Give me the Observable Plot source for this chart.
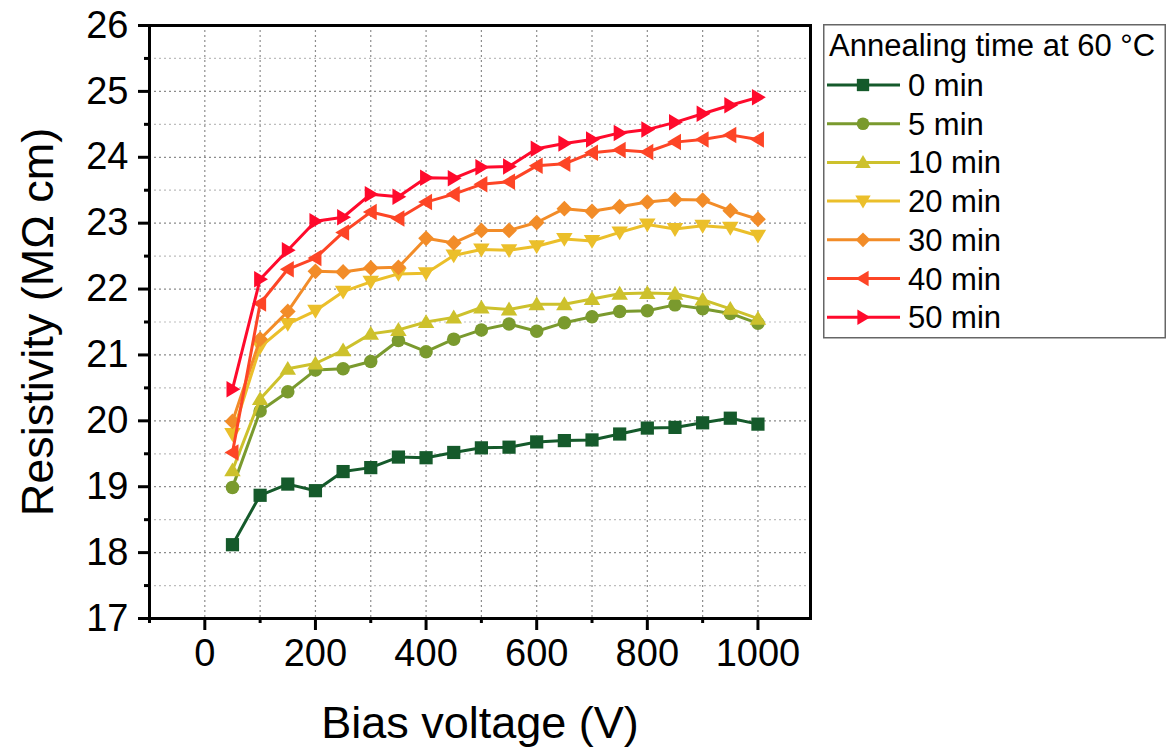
<!DOCTYPE html>
<html>
<head>
<meta charset="utf-8">
<script src="https://cdn.jsdelivr.net/npm/d3@7"></script>
<script src="https://cdn.jsdelivr.net/npm/@observablehq/plot@0.6"></script>
<style>
  body { margin: 0; background: #fff; }
  #wrap { display: flex; flex-direction: row; width: 1166px; height: 749px; overflow: hidden; background: #fff; }
  #wrap svg { font-family: "Liberation Sans", Arial, sans-serif; }
  #chart svg { max-width: none; }
</style>
</head>
<body>
<div id="wrap"><div id="chart"></div><div id="legend"></div></div>
<script>
// ---- data ----
const voltage = [50,100,150,200,250,300,350,400,450,500,550,600,650,700,750,800,850,900,950,1000];
const seriesNames = ["0 min","5 min","10 min","20 min","30 min","40 min","50 min"];
const seriesColors = ["#155a2b","#7a9a2e","#cdc12c","#ebbf2a","#f28c28","#fd4526","#ff0a2c"];
const min0  = [18.12,18.87,19.04,18.94,19.23,19.29,19.45,19.44,19.52,19.59,19.60,19.68,19.70,19.71,19.80,19.89,19.90,19.97,20.04,19.95];
const min5  = [18.99,20.15,20.44,20.77,20.79,20.90,21.22,21.05,21.24,21.38,21.47,21.36,21.49,21.58,21.66,21.67,21.76,21.70,21.63,21.48];
const min10 = [19.25,20.33,20.79,20.87,21.07,21.32,21.38,21.50,21.57,21.72,21.69,21.77,21.77,21.85,21.93,21.94,21.93,21.84,21.70,21.55];
const min20 = [19.80,21.12,21.47,21.67,21.96,22.11,22.23,22.24,22.51,22.60,22.59,22.65,22.76,22.73,22.86,22.98,22.91,22.96,22.93,22.81];
const min30 = [19.99,21.24,21.66,22.27,22.26,22.32,22.33,22.77,22.70,22.89,22.89,23.01,23.22,23.18,23.25,23.32,23.36,23.35,23.19,23.06];
const min40 = [19.52,21.78,22.30,22.47,22.86,23.17,23.07,23.32,23.44,23.59,23.63,23.87,23.90,24.07,24.11,24.08,24.23,24.27,24.34,24.27];
const min50 = [20.48,22.15,22.59,23.03,23.09,23.44,23.40,23.69,23.68,23.85,23.86,24.13,24.21,24.27,24.37,24.42,24.53,24.66,24.79,24.91];
const seriesValues = [min0,min5,min10,min20,min30,min40,min50];
const xMajorTicks = [0,200,400,600,800,1000];
const xMinorTicks = [-100,100,300,500,700,900];
const yMajorTicks = [17,18,19,20,21,22,23,24,25,26];
const yMinorTicks = [17.5,18.5,19.5,20.5,21.5,22.5,23.5,24.5,25.5];
const xGrid = [0,100,200,300,400,500,600,700,800,900,1000];
const yGridMajor = [18,19,20,21,22,23,24,25];
const yGridMinor = [17.5,18.5,19.5,20.5,21.5,22.5,23.5,24.5,25.5];
const xTitle = "Bias voltage (V)";
const yTitle = "Resistivity (MΩ cm)";
const legendTitle = "Annealing time at 60 °C";

// ---- marker shapes (Origin-like) ----
const rad = (size) => Math.sqrt(size / Math.PI);
const symSquare = {draw(c, s){ const r = rad(s)*0.88; c.rect(-r,-r,2*r,2*r); }};
const symCircle = {draw(c, s){ const r = rad(s)*0.9; c.moveTo(r,0); c.arc(0,0,r,0,2*Math.PI); }};
const symUp = {draw(c, s){ const r = rad(s); c.moveTo(0,-r*1.05); c.lineTo(r*1.1,r*0.8); c.lineTo(-r*1.1,r*0.8); c.closePath(); }};
const symDown = {draw(c, s){ const r = rad(s); c.moveTo(0,r*1.05); c.lineTo(r*1.1,-r*0.8); c.lineTo(-r*1.1,-r*0.8); c.closePath(); }};
const symDiamond = {draw(c, s){ const r = rad(s)*1.05; c.moveTo(0,-r); c.lineTo(r,0); c.lineTo(0,r); c.lineTo(-r,0); c.closePath(); }};
const symLeft = {draw(c, s){ const r = rad(s); c.moveTo(-r*1.05,0); c.lineTo(r*0.8,-r*1.1); c.lineTo(r*0.8,r*1.1); c.closePath(); }};
const symRight = {draw(c, s){ const r = rad(s); c.moveTo(r*1.05,0); c.lineTo(-r*0.8,-r*1.1); c.lineTo(-r*0.8,r*1.1); c.closePath(); }};
const seriesSymbols = [symSquare,symCircle,symUp,symDown,symDiamond,symLeft,symRight];

const rows = seriesNames.map((name, i) => voltage.map((v, j) => ({series: name, v, r: seriesValues[i][j]})));

const seriesMarks = rows.flatMap((d, i) => [
  Plot.line(d, {x: "v", y: "r", stroke: "series", strokeWidth: 3}),
  Plot.dot(d, {x: "v", y: "r", fill: "series", symbol: seriesSymbols[i], r: 7.5, stroke: "none"})
]);

const plain = (d) => String(d);
const blank = () => "";
const hasAxisMarks = typeof Plot.axisX === "function";
const axisMarks = hasAxisMarks ? [
  Plot.axisX(xMajorTicks, {tickSize: 12, tickPadding: 9, strokeWidth: 3, fontSize: 38, tickFormat: plain, label: null}),
  Plot.axisX(xMinorTicks, {tickSize: 5, strokeWidth: 3, tickFormat: blank, label: null}),
  Plot.axisY(yMajorTicks, {tickSize: 11, tickPadding: 10, strokeWidth: 3, fontSize: 38, tickFormat: plain, label: null}),
  Plot.axisY(yMinorTicks, {tickSize: 5, strokeWidth: 3, tickFormat: blank, label: null})
] : [];

const chart = Plot.plot({
  width: 823,
  height: 749,
  marginLeft: 149,
  marginRight: 13,
  marginTop: 25,
  marginBottom: 131,
  style: {fontFamily: "Liberation Sans, Arial, sans-serif", color: "#000", background: "#fff"},
  x: {domain: [-100, 1095], ticks: xMajorTicks, tickSize: 12, tickPadding: 9, tickFormat: plain, label: null},
  y: {domain: [17, 26], ticks: yMajorTicks, tickSize: 11, tickPadding: 10, tickFormat: plain, label: null},
  color: {domain: seriesNames, range: seriesColors},
  marks: [
    Plot.ruleX(xGrid, {stroke: "#8c8c8c", strokeWidth: 1.2, strokeDasharray: "2,3"}),
    Plot.ruleY(yGridMajor, {stroke: "#8c8c8c", strokeWidth: 1.2, strokeDasharray: "2,3"}),
    Plot.ruleY(yGridMinor, {stroke: "#bdbdbd", strokeWidth: 1.2, strokeDasharray: "2,3"}),
    ...seriesMarks,
    Plot.frame({stroke: "#000", strokeWidth: 3}),
    ...axisMarks,
    Plot.text([xTitle], {frameAnchor: "bottom", dy: 119, lineAnchor: "bottom", textAnchor: "middle", fontSize: 45, fill: "#000"}),
    Plot.text([yTitle], {frameAnchor: "left", dx: -97, rotate: -90, lineAnchor: "bottom", textAnchor: "middle", fontSize: 45, fill: "#000"})
  ]
});
document.getElementById("chart").appendChild(chart);

// ---- legend (box to the right of the plot) ----
const lw = 343, lh = 749;
const lg = d3.select("#legend").append("svg").attr("width", lw).attr("height", lh)
  .style("font-family", "Liberation Sans, Arial, sans-serif");
lg.append("rect").attr("x", 0.75).attr("y", 24.75).attr("width", lw - 1.5).attr("height", 313)
  .attr("fill", "#fff").attr("stroke", "#666").attr("stroke-width", 1.5);
lg.append("text").attr("x", 6).attr("y", 56).attr("font-size", 31).attr("fill", "#000").text(legendTitle);
seriesNames.forEach((name, i) => {
  const cy = 85 + i * 38.7;
  const g = lg.append("g");
  g.append("line").attr("x1", 4).attr("x2", 77).attr("y1", cy).attr("y2", cy)
    .attr("stroke", seriesColors[i]).attr("stroke-width", 3);
  g.append("path").attr("transform", `translate(40,${cy})`)
    .attr("d", d3.symbol(seriesSymbols[i], Math.PI * 49)()).attr("fill", seriesColors[i]);
  g.append("text").attr("x", 85).attr("y", cy + 11).attr("font-size", 31).attr("fill", "#000").text(name);
});
</script>
</body>
</html>
